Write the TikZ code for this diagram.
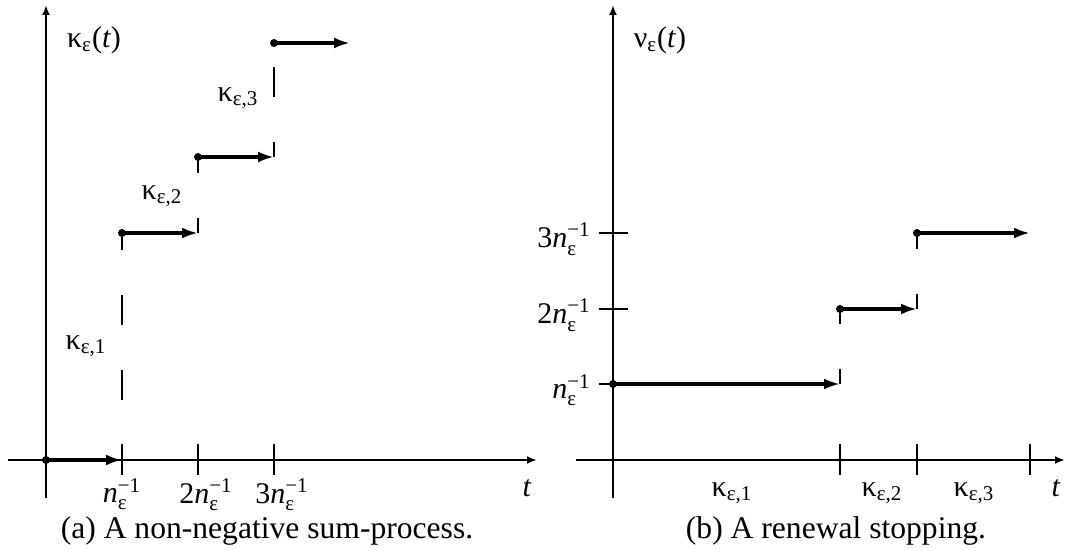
\documentclass[tikz,border=0pt]{standalone}
\usepackage{amsmath}
\usepackage{fontspec}
\setmainfont{Liberation Serif}
\usetikzlibrary{arrows.meta}

\newcommand{\kapeps}[1]{$\text{κ}_{\text{ε#1}}$}
\newcommand{\ninv}[1]{$\text{#1\textit{n}}_{\text{ε}}^{\text{−1}}$}

\begin{document}
\begin{tikzpicture}[x=0.5pt,y=-0.5pt,
  axis/.style={line width=1.1pt,-{Latex[length=5pt,width=4pt]}},
  tick/.style={line width=1.1pt},
  level/.style={line width=1.9pt,-{Latex[length=8pt,width=5.5pt]}},
  jump/.style={line width=1.3pt,dash pattern=on 15pt off 22.5pt,dash phase=7.5pt},
  dot/.style={circle,fill,inner sep=0pt,minimum size=4pt},
  lab/.style={font=\fontsize{15}{18}\selectfont,inner sep=1pt},
  captext/.style={font=\fontsize{15.8}{19}\selectfont,inner sep=1pt}]
  \useasboundingbox (0,0) rectangle (1066,551);

  % --- (a) sum-process ---
  \coordinate (ayb) at (46,498);
  \coordinate (ayt) at (46,5);
  \coordinate (axl) at (8,460);
  \coordinate (axr) at (537,460);
  \draw[axis] (ayb) -- (ayt);
  \draw[axis] (axl) -- (axr);
  \foreach \x in {122,198,274}
    \draw[tick] (\x,444) -- (\x,475);

  % steps
  \node[dot] (a0) at (46,460) {};
  \node[dot] (a1) at (122,233) {};
  \node[dot] (a2) at (198,157) {};
  \node[dot] (a3) at (274,43) {};
  \coordinate (ja1) at (122,460);
  \coordinate (ja2) at (198,233);
  \coordinate (ja3) at (274,157);
  \coordinate (ja4) at (350,43);
  \draw[level] (a0.center) -- (ja1);
  \draw[level] (a1.center) -- (ja2);
  \draw[level] (a2.center) -- (ja3);
  \draw[level] (a3.center) -- (ja4);
  \draw[jump] (ja1) -- (a1.center);
  \draw[jump] (ja2) -- (a2.center);
  \draw[jump] (ja3) -- (a3.center);

  % labels
  \node[lab] (kapt) at (94,40) {$\text{κ}_{\text{ε}}\text{(\textit{t})}$};
  \node[lab] (kap1) at (86,346) {\kapeps{,1}};
  \node[lab] (kap2) at (162,196) {\kapeps{,2}};
  \node[lab] (kap3) at (238,98) {\kapeps{,3}};
  \node[lab,anchor=north] (na1) at (122,476) {\ninv{}};
  \node[lab,anchor=north] (na2) at (206,476) {\ninv{2}};
  \node[lab,anchor=north] (na3) at (282,476) {\ninv{3}};
  \node[lab] (ta) at (527,488) {\textit{t}};
  \node[captext] (capa) at (267,531) {(a) A non-negative sum-process.};

  % --- (b) renewal stopping ---
  \coordinate (byb) at (613,498);
  \coordinate (byt) at (613,5);
  \coordinate (bxl) at (576,460);
  \coordinate (bxr) at (1065,460);
  \draw[axis] (byb) -- (byt);
  \draw[axis] (bxl) -- (bxr);
  \foreach \x in {840,917,1030}
    \draw[tick] (\x,444) -- (\x,475);
  \foreach \y in {233,309,384}
    \draw[tick] (599,\y) -- (628,\y);

  % steps
  \node[dot] (b1) at (613,384) {};
  \node[dot] (b2) at (840,309) {};
  \node[dot] (b3) at (917,233) {};
  \coordinate (jb1) at (840,384);
  \coordinate (jb2) at (917,309);
  \coordinate (jb3) at (1030,233);
  \draw[level] (b1.center) -- (jb1);
  \draw[level] (b2.center) -- (jb2);
  \draw[level] (b3.center) -- (jb3);
  \draw[jump] (jb1) -- (b2.center);
  \draw[jump] (jb2) -- (b3.center);

  % labels
  \node[lab] (nut) at (660,40) {$\text{ν}_{\text{ε}}\text{(\textit{t})}$};
  \node[lab,anchor=east] (nb1) at (593,390) {\ninv{}};
  \node[lab,anchor=east] (nb2) at (593,315) {\ninv{2}};
  \node[lab,anchor=east] (nb3) at (593,239) {\ninv{3}};
  \node[lab] (kb1) at (732,493) {\kapeps{,1}};
  \node[lab] (kb2) at (882,493) {\kapeps{,2}};
  \node[lab] (kb3) at (974,493) {\kapeps{,3}};
  \node[lab] (tb) at (1056,488) {\textit{t}};
  \node[captext] (capb) at (836,531) {(b) A renewal stopping.};
\end{tikzpicture}
\end{document}
